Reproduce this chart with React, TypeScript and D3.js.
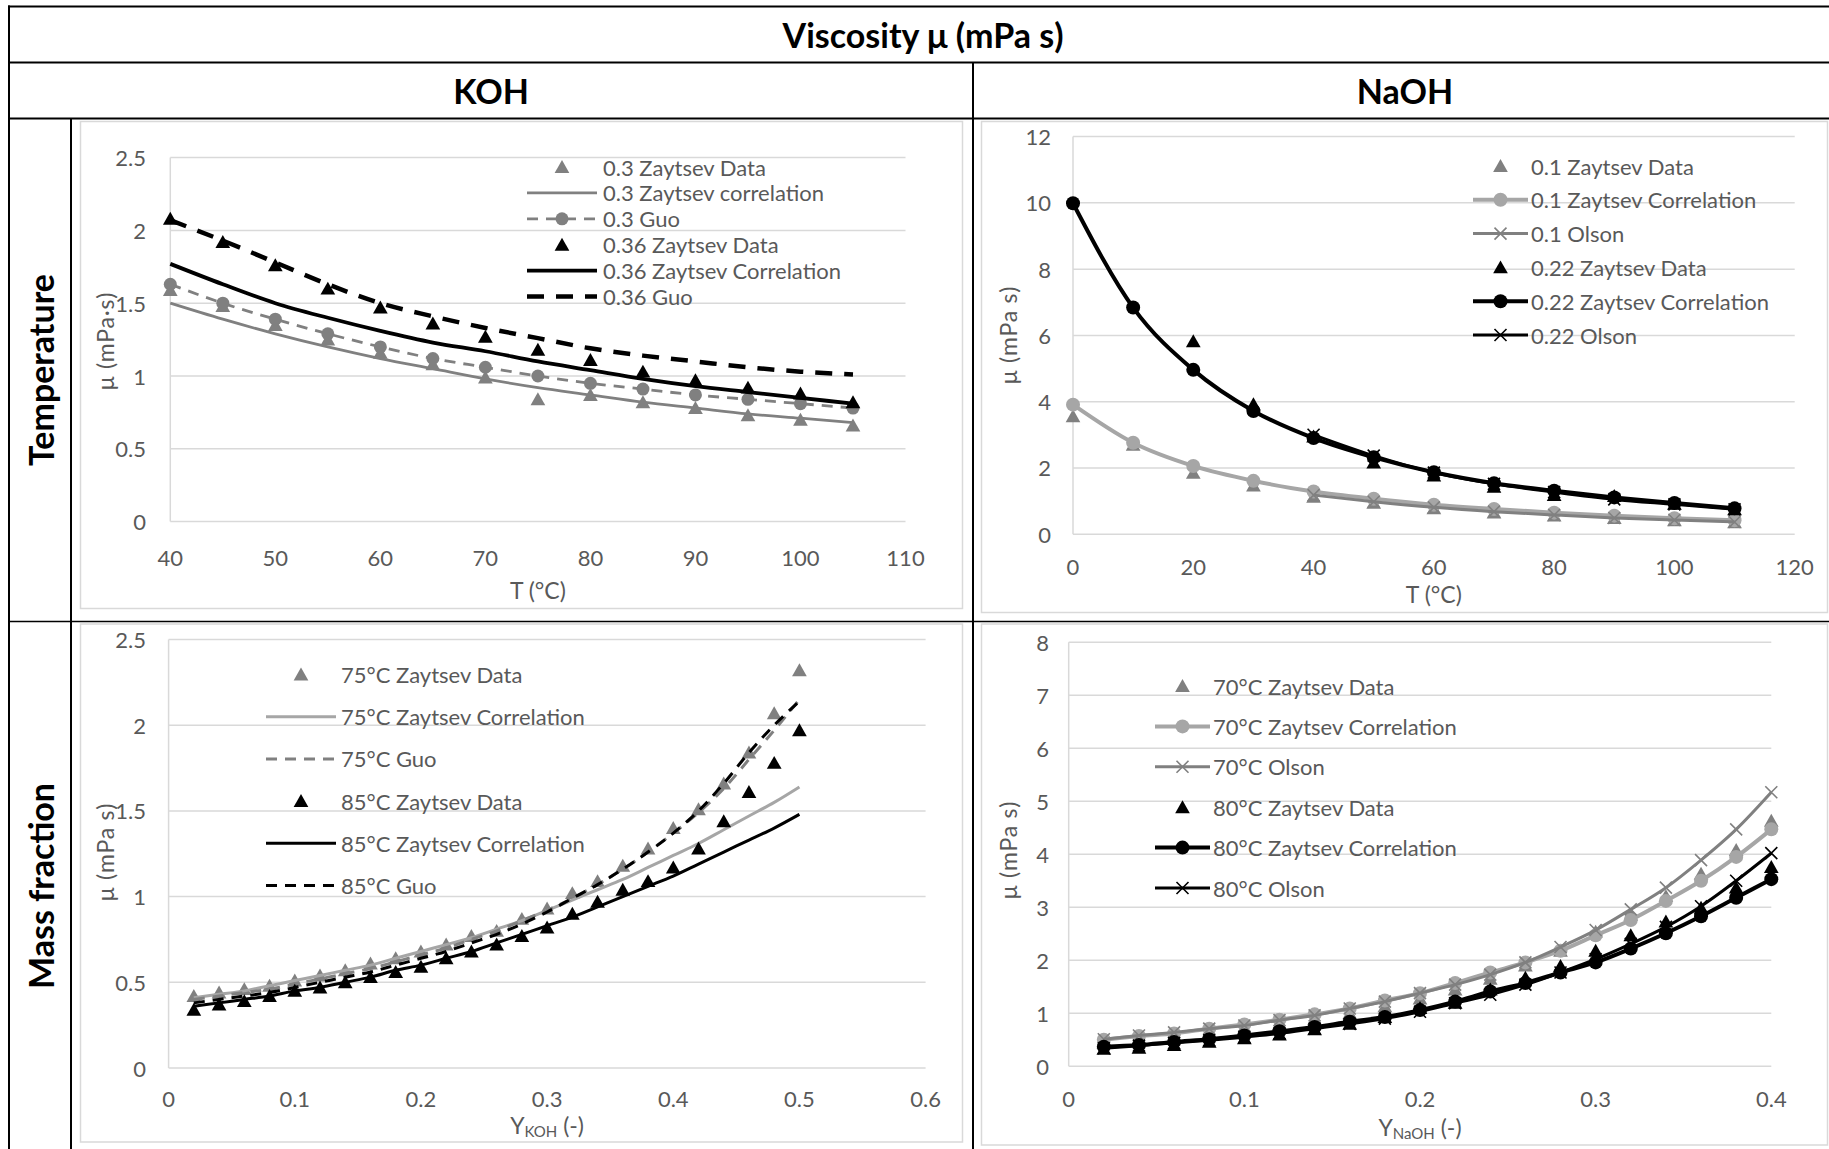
import React from 'react';
import * as d3 from 'd3';

const FONT = "Lato, Carlito, Calibri, 'DejaVu Sans', sans-serif";
const TEXT_GRAY = '#595959';
const GRID = '#d9d9d9';
const DARK_GRAY = '#808080';
const LIGHT_GRAY = '#a6a6a6';
const BLACK = '#000000';

// ---- KOH, viscosity against temperature ----
const kohTemps = [40, 45, 50, 55, 60, 65, 70, 75, 80, 85, 90, 95, 100, 105];
const koh30Data = [1.59, 1.48, 1.35, 1.25, 1.16, 1.08, 0.99, 0.84, 0.87, 0.82, 0.78, 0.73, 0.7, 0.66];
const koh30Corr = [1.5, 1.39, 1.29, 1.2, 1.12, 1.05, 0.98, 0.92, 0.87, 0.82, 0.78, 0.74, 0.71, 0.68];
const koh30Guo = [1.63, 1.5, 1.39, 1.29, 1.2, 1.12, 1.06, 1.0, 0.95, 0.91, 0.87, 0.84, 0.81, 0.78];
const koh36Data = [2.08, 1.92, 1.76, 1.6, 1.47, 1.36, 1.27, 1.18, 1.11, 1.03, 0.97, 0.92, 0.88, 0.82];
const koh36Corr = [1.77, 1.63, 1.5, 1.4, 1.31, 1.23, 1.17, 1.1, 1.04, 0.98, 0.93, 0.89, 0.85, 0.81];
const koh36Guo = [2.07, 1.93, 1.78, 1.63, 1.5, 1.41, 1.33, 1.26, 1.19, 1.14, 1.1, 1.06, 1.03, 1.01];
const kohTempXTicks = [40, 50, 60, 70, 80, 90, 100, 110];
const kohTempYTicks = [0, 0.5, 1, 1.5, 2, 2.5];

// ---- NaOH, viscosity against temperature ----
const naohTemps = [0, 10, 20, 30, 40, 50, 60, 70, 80, 90, 100, 110];
const naohDataTemps = [20, 30, 40, 50, 60, 70, 80, 90, 100, 110];
const olsonTemps = [40, 50, 60, 70, 80, 90, 100, 110];
const naoh10Data = [3.56, 2.7, 1.85, 1.47, 1.13, 0.95, 0.78, 0.65, 0.56, 0.49, 0.42, 0.36];
const naoh10Corr = [3.91, 2.76, 2.06, 1.61, 1.29, 1.07, 0.89, 0.76, 0.65, 0.56, 0.48, 0.42];
const naoh10Olson = [1.18, 0.98, 0.81, 0.68, 0.58, 0.49, 0.43, 0.37];
const naoh22Data = [5.82, 3.92, 2.95, 2.16, 1.77, 1.43, 1.18, 1.15, 0.92, 0.75];
const naoh22Corr = [9.99, 6.84, 4.96, 3.72, 2.9, 2.32, 1.87, 1.54, 1.31, 1.11, 0.94, 0.78];
const naoh22Olson = [3.0, 2.37, 1.86, 1.52, 1.27, 1.05, 0.9, 0.75];
const naohTempXTicks = [0, 20, 40, 60, 80, 100, 120];
const naohTempYTicks = [0, 2, 4, 6, 8, 10, 12];

// ---- KOH, viscosity against mass fraction ----
const kohMass = [0.02, 0.04, 0.06, 0.08, 0.1, 0.12, 0.14, 0.16, 0.18, 0.2, 0.22, 0.24, 0.26, 0.28, 0.3, 0.32, 0.34, 0.36, 0.38, 0.4, 0.42, 0.44, 0.46, 0.48, 0.5];
const koh75Data = [0.42, 0.44, 0.46, 0.48, 0.51, 0.54, 0.57, 0.61, 0.64, 0.68, 0.72, 0.77, 0.8, 0.87, 0.93, 1.02, 1.09, 1.18, 1.28, 1.4, 1.51, 1.66, 1.84, 2.07, 2.32];
const koh75Corr = [0.41, 0.43, 0.45, 0.48, 0.51, 0.54, 0.57, 0.6, 0.64, 0.68, 0.72, 0.76, 0.81, 0.86, 0.92, 0.98, 1.04, 1.1, 1.17, 1.24, 1.31, 1.39, 1.47, 1.55, 1.64];
const koh75Guo = [0.4, 0.42, 0.44, 0.46, 0.49, 0.52, 0.55, 0.58, 0.62, 0.66, 0.7, 0.75, 0.8, 0.86, 0.92, 0.99, 1.07, 1.16, 1.26, 1.37, 1.49, 1.63, 1.8, 1.97, 2.15];
const koh85Data = [0.34, 0.37, 0.39, 0.42, 0.45, 0.47, 0.5, 0.53, 0.56, 0.59, 0.64, 0.68, 0.72, 0.77, 0.82, 0.9, 0.97, 1.04, 1.09, 1.17, 1.28, 1.44, 1.61, 1.78, 1.97];
const koh85Corr = [0.36, 0.38, 0.4, 0.42, 0.45, 0.47, 0.5, 0.53, 0.57, 0.6, 0.64, 0.68, 0.73, 0.78, 0.83, 0.88, 0.94, 1.0, 1.06, 1.12, 1.19, 1.26, 1.33, 1.4, 1.48];
const koh85Guo = [0.38, 0.4, 0.42, 0.44, 0.47, 0.5, 0.53, 0.56, 0.6, 0.64, 0.68, 0.73, 0.78, 0.84, 0.91, 0.99, 1.07, 1.16, 1.26, 1.37, 1.5, 1.66, 1.84, 2.0, 2.14];
const kohMassXTicks = [0, 0.1, 0.2, 0.3, 0.4, 0.5, 0.6];
const kohMassYTicks = [0, 0.5, 1, 1.5, 2, 2.5];

// ---- NaOH, viscosity against mass fraction ----
const naohMass = [0.02, 0.04, 0.06, 0.08, 0.1, 0.12, 0.14, 0.16, 0.18, 0.2, 0.22, 0.24, 0.26, 0.28, 0.3, 0.32, 0.34, 0.36, 0.38, 0.4];
const naoh70Data = [0.45, 0.5, 0.55, 0.62, 0.7, 0.79, 0.89, 1.0, 1.13, 1.28, 1.45, 1.65, 1.9, 2.18, 2.54, 2.86, 3.21, 3.63, 4.08, 4.63];
const naoh70Corr = [0.5, 0.57, 0.62, 0.71, 0.79, 0.88, 0.98, 1.09, 1.24, 1.38, 1.57, 1.77, 1.96, 2.18, 2.47, 2.76, 3.12, 3.5, 3.95, 4.47];
const naoh70Olson = [0.51, 0.58, 0.64, 0.71, 0.77, 0.87, 0.96, 1.09, 1.22, 1.38, 1.54, 1.73, 1.96, 2.25, 2.57, 2.96, 3.37, 3.89, 4.47, 5.17];
const naoh80Data = [0.33, 0.35, 0.4, 0.46, 0.53, 0.6, 0.7, 0.8, 0.93, 1.1, 1.2, 1.45, 1.67, 1.89, 2.18, 2.47, 2.73, 2.99, 3.37, 3.76];
const naoh80Corr = [0.37, 0.4, 0.46, 0.51, 0.58, 0.66, 0.74, 0.84, 0.93, 1.06, 1.22, 1.41, 1.57, 1.77, 1.96, 2.22, 2.51, 2.83, 3.18, 3.53];
const naoh80Olson = [0.34, 0.39, 0.44, 0.49, 0.55, 0.62, 0.71, 0.8, 0.9, 1.03, 1.19, 1.35, 1.54, 1.77, 2.02, 2.31, 2.63, 3.02, 3.5, 4.02];
const naohMassXTicks = [0, 0.1, 0.2, 0.3, 0.4];
const naohMassYTicks = [0, 1, 2, 3, 4, 5, 6, 7, 8];

type Marker = 'triangle' | 'circle' | 'cross' | null;

interface Series {
  label: string;
  xs: number[];
  ys: number[];
  color: string;
  width?: number;
  dash?: string;
  marker?: Marker;
  size?: number;
}

interface PanelProps {
  box: { x: number; y: number; w: number; h: number };
  plot: { left: number; right: number; top: number; bottom: number };
  xDomain: [number, number];
  yDomain: [number, number];
  xTicks: number[];
  yTicks: number[];
  series: Series[];
  legend: { x: number; y: number; step: number; lineLen: number; gap: number };
  xTitle: React.ReactNode;
  xTitleY: number;
  yTitle: string;
  yTitleX: number;
  yTitleY: number;
  xTickY: number;
  yTickX: number;
}

const fmt = (v: number) => String(Math.round(v * 100) / 100);

function MarkerShape({ kind, x, y, color, size = 7 }: { kind: Marker; x: number; y: number; color: string; size?: number }) {
  if (kind === 'triangle') {
    const s = size;
    return <path d={`M${x},${y - s} L${x + s * 1.05},${y + s * 0.85} L${x - s * 1.05},${y + s * 0.85} Z`} fill={color} />;
  }
  if (kind === 'circle') {
    return <circle cx={x} cy={y} r={size} fill={color} />;
  }
  if (kind === 'cross') {
    const s = size;
    return (
      <path
        d={`M${x - s},${y - s} L${x + s},${y + s} M${x - s},${y + s} L${x + s},${y - s}`}
        stroke={color}
        strokeWidth={1.6}
        fill="none"
      />
    );
  }
  return null;
}

function Panel(p: PanelProps) {
  const x = d3.scaleLinear().domain(p.xDomain).range([p.plot.left, p.plot.right]);
  const y = d3.scaleLinear().domain(p.yDomain).range([p.plot.bottom, p.plot.top]);
  const line = d3
    .line<[number, number]>()
    .x((d) => x(d[0]))
    .y((d) => y(d[1]))
    .curve(d3.curveMonotoneX);

  return (
    <g>
      <rect x={p.box.x} y={p.box.y} width={p.box.w} height={p.box.h} fill="#fff" stroke={GRID} strokeWidth={1.5} />
      {p.yTicks.map((t) => (
        <line key={'g' + t} x1={p.plot.left} x2={p.plot.right} y1={y(t)} y2={y(t)} stroke={GRID} strokeWidth={1.5} />
      ))}
      <line x1={p.plot.left} x2={p.plot.left} y1={p.plot.top} y2={p.plot.bottom} stroke={GRID} strokeWidth={1.5} />
      {p.yTicks.map((t) => (
        <text
          key={'yl' + t}
          x={p.yTickX}
          y={y(t)}
          textAnchor="end"
          dominantBaseline="central"
          fontSize={22}
          fill={TEXT_GRAY}
          fontFamily={FONT}
        >
          {fmt(t)}
        </text>
      ))}
      {p.xTicks.map((t) => (
        <text
          key={'xl' + t}
          x={x(t)}
          y={p.xTickY}
          textAnchor="middle"
          dominantBaseline="central"
          fontSize={22}
          fill={TEXT_GRAY}
          fontFamily={FONT}
        >
          {fmt(t)}
        </text>
      ))}
      <text
        x={(p.plot.left + p.plot.right) / 2}
        y={p.xTitleY}
        textAnchor="middle"
        dominantBaseline="central"
        fontSize={23}
        fill={TEXT_GRAY}
        fontFamily={FONT}
      >
        {p.xTitle}
      </text>
      <text
        transform={`translate(${p.yTitleX},${p.yTitleY}) rotate(-90)`}
        textAnchor="middle"
        dominantBaseline="central"
        fontSize={23}
        letterSpacing={0.8}
        fill={TEXT_GRAY}
        fontFamily={FONT}
      >
        {p.yTitle}
      </text>

      {p.series.map((s, i) => {
        const pts = s.xs.map((v, k) => [v, s.ys[k]] as [number, number]);
        return (
          <g key={'s' + i}>
            {s.width ? (
              <path
                d={line(pts) || ''}
                fill="none"
                stroke={s.color}
                strokeWidth={s.width}
                strokeDasharray={s.dash}
                strokeLinejoin="round"
              />
            ) : null}
            {s.marker
              ? pts.map((d, k) => (
                  <MarkerShape key={k} kind={s.marker!} x={x(d[0])} y={y(d[1])} color={s.color} size={s.size} />
                ))
              : null}
          </g>
        );
      })}

      {p.series.map((s, i) => {
        const cy = p.legend.y + i * p.legend.step;
        const x0 = p.legend.x;
        const x1 = p.legend.x + p.legend.lineLen;
        return (
          <g key={'l' + i}>
            {s.width ? (
              <line x1={x0} x2={x1} y1={cy} y2={cy} stroke={s.color} strokeWidth={s.width} strokeDasharray={s.dash} />
            ) : null}
            {s.marker ? <MarkerShape kind={s.marker} x={(x0 + x1) / 2} y={cy} color={s.color} size={s.size} /> : null}
            <text
              x={x1 + p.legend.gap}
              y={cy}
              dominantBaseline="central"
              fontSize={22}
              fill={TEXT_GRAY}
              fontFamily={FONT}
            >
              {s.label}
            </text>
          </g>
        );
      })}
    </g>
  );
}

export default function App() {
  const W = 1829;
  const H = 1149;

  const kohTempSeries: Series[] = [
    { label: '0.3 Zaytsev Data', xs: kohTemps, ys: koh30Data, color: DARK_GRAY, marker: 'triangle', size: 7 },
    { label: '0.3 Zaytsev correlation', xs: kohTemps, ys: koh30Corr, color: DARK_GRAY, width: 2.8 },
    { label: '0.3 Guo', xs: kohTemps, ys: koh30Guo, color: DARK_GRAY, width: 2.8, dash: '11 8', marker: 'circle', size: 6.5 },
    { label: '0.36 Zaytsev Data', xs: kohTemps, ys: koh36Data, color: BLACK, marker: 'triangle', size: 7 },
    { label: '0.36 Zaytsev Correlation', xs: kohTemps, ys: koh36Corr, color: BLACK, width: 3.8 },
    { label: '0.36 Guo', xs: kohTemps, ys: koh36Guo, color: BLACK, width: 4.5, dash: '17 12' },
  ];

  const naohTempSeries: Series[] = [
    { label: '0.1 Zaytsev Data', xs: naohTemps, ys: naoh10Data, color: DARK_GRAY, marker: 'triangle', size: 7 },
    { label: '0.1 Zaytsev Correlation', xs: naohTemps, ys: naoh10Corr, color: LIGHT_GRAY, width: 4, marker: 'circle', size: 7 },
    { label: '0.1 Olson', xs: olsonTemps, ys: naoh10Olson, color: DARK_GRAY, width: 3, marker: 'cross', size: 6 },
    { label: '0.22 Zaytsev Data', xs: naohDataTemps, ys: naoh22Data, color: BLACK, marker: 'triangle', size: 7 },
    { label: '0.22 Zaytsev Correlation', xs: naohTemps, ys: naoh22Corr, color: BLACK, width: 4, marker: 'circle', size: 7 },
    { label: '0.22 Olson', xs: olsonTemps, ys: naoh22Olson, color: BLACK, width: 3, marker: 'cross', size: 6 },
  ];

  const kohMassSeries: Series[] = [
    { label: '75°C Zaytsev Data', xs: kohMass, ys: koh75Data, color: DARK_GRAY, marker: 'triangle', size: 7 },
    { label: '75°C Zaytsev Correlation', xs: kohMass, ys: koh75Corr, color: LIGHT_GRAY, width: 3 },
    { label: '75°C Guo', xs: kohMass, ys: koh75Guo, color: DARK_GRAY, width: 3, dash: '11 8' },
    { label: '85°C Zaytsev Data', xs: kohMass, ys: koh85Data, color: BLACK, marker: 'triangle', size: 7 },
    { label: '85°C Zaytsev Correlation', xs: kohMass, ys: koh85Corr, color: BLACK, width: 3 },
    { label: '85°C Guo', xs: kohMass, ys: koh85Guo, color: BLACK, width: 3, dash: '11 8' },
  ];

  const naohMassSeries: Series[] = [
    { label: '70°C Zaytsev Data', xs: naohMass, ys: naoh70Data, color: DARK_GRAY, marker: 'triangle', size: 7 },
    { label: '70°C Zaytsev Correlation', xs: naohMass, ys: naoh70Corr, color: LIGHT_GRAY, width: 4, marker: 'circle', size: 7 },
    { label: '70°C Olson', xs: naohMass, ys: naoh70Olson, color: DARK_GRAY, width: 3, marker: 'cross', size: 6 },
    { label: '80°C Zaytsev Data', xs: naohMass, ys: naoh80Data, color: BLACK, marker: 'triangle', size: 7 },
    { label: '80°C Zaytsev Correlation', xs: naohMass, ys: naoh80Corr, color: BLACK, width: 4, marker: 'circle', size: 7 },
    { label: '80°C Olson', xs: naohMass, ys: naoh80Olson, color: BLACK, width: 3, marker: 'cross', size: 6 },
  ];

  const headStyle = { fontFamily: FONT, fontWeight: 700, fontSize: 34, fill: '#000' } as const;

  return (
    <svg
      width={W}
      height={H}
      viewBox={`0 0 ${W} ${H}`}
      style={{ position: 'absolute', left: 0, top: 0, background: '#fff' }}
    >
      <rect x={0} y={0} width={W} height={H} fill="#fff" />

      <Panel
        box={{ x: 80.5, y: 121.5, w: 882, h: 487 }}
        plot={{ left: 170.3, right: 905.5, top: 157.6, bottom: 521.6 }}
        xDomain={[40, 110]}
        yDomain={[0, 2.5]}
        xTicks={kohTempXTicks}
        yTicks={kohTempYTicks}
        series={kohTempSeries}
        legend={{ x: 527, y: 167, step: 25.9, lineLen: 70, gap: 6 }}
        xTitle="T (°C)"
        xTitleY={590}
        yTitle="μ (mPa·s)"
        yTitleX={105}
        yTitleY={341}
        xTickY={557}
        yTickX={146}
      />

      <Panel
        box={{ x: 981.5, y: 121.5, w: 846, h: 491 }}
        plot={{ left: 1073, right: 1794.7, top: 136.6, bottom: 534.2 }}
        xDomain={[0, 120]}
        yDomain={[0, 12]}
        xTicks={naohTempXTicks}
        yTicks={naohTempYTicks}
        series={naohTempSeries}
        legend={{ x: 1473, y: 166, step: 33.8, lineLen: 55, gap: 3 }}
        xTitle="T (°C)"
        xTitleY={594}
        yTitle="μ (mPa s)"
        yTitleX={1008}
        yTitleY={335}
        xTickY={566}
        yTickX={1051}
      />

      <Panel
        box={{ x: 80.5, y: 624, w: 882, h: 518 }}
        plot={{ left: 168.6, right: 925.6, top: 639.5, bottom: 1068 }}
        xDomain={[0, 0.6]}
        yDomain={[0, 2.5]}
        xTicks={kohMassXTicks}
        yTicks={kohMassYTicks}
        series={kohMassSeries}
        legend={{ x: 266, y: 674.5, step: 42.2, lineLen: 70, gap: 5 }}
        xTitle={
          <>
            Y
            <tspan fontSize={15} dy={6}>
              KOH
            </tspan>
            <tspan dy={-6}> (-)</tspan>
          </>
        }
        xTitleY={1125}
        yTitle="μ (mPa s)"
        yTitleX={105}
        yTitleY={852}
        xTickY={1098}
        yTickX={146}
      />

      <Panel
        box={{ x: 981.5, y: 624, w: 846, h: 521 }}
        plot={{ left: 1068.7, right: 1771.3, top: 642.2, bottom: 1066.3 }}
        xDomain={[0, 0.4]}
        yDomain={[0, 8]}
        xTicks={naohMassXTicks}
        yTicks={naohMassYTicks}
        series={naohMassSeries}
        legend={{ x: 1155, y: 686, step: 40.4, lineLen: 55, gap: 3 }}
        xTitle={
          <>
            Y
            <tspan fontSize={15} dy={6}>
              NaOH
            </tspan>
            <tspan dy={-6}> (-)</tspan>
          </>
        }
        xTitleY={1127}
        yTitle="μ (mPa s)"
        yTitleX={1008}
        yTitleY={850}
        xTickY={1098}
        yTickX={1049}
      />

      {/* table rules */}
      <g stroke="#000">
        <line x1={8} x2={1840} y1={6.5} y2={6.5} strokeWidth={2} />
        <line x1={9} x2={9} y1={5.5} y2={1152} strokeWidth={2} />
        <line x1={8} x2={1840} y1={62.5} y2={62.5} strokeWidth={2} />
        <line x1={8} x2={1840} y1={118.5} y2={118.5} strokeWidth={2} />
        <line x1={71} x2={71} y1={118} y2={1152} strokeWidth={2} />
        <line x1={973} x2={973} y1={62} y2={1152} strokeWidth={2} />
        <line x1={8} x2={1840} y1={621.5} y2={621.5} strokeWidth={1.6} />
      </g>

      <text x={923} y={34} textAnchor="middle" dominantBaseline="central" {...headStyle}>
        Viscosity μ (mPa s)
      </text>
      <text x={491} y={90} textAnchor="middle" dominantBaseline="central" {...headStyle}>
        KOH
      </text>
      <text x={1405} y={90} textAnchor="middle" dominantBaseline="central" {...headStyle}>
        NaOH
      </text>
      <text transform="translate(40,370) rotate(-90)" textAnchor="middle" dominantBaseline="central" {...headStyle}>
        Temperature
      </text>
      <text transform="translate(40,886) rotate(-90)" textAnchor="middle" dominantBaseline="central" {...headStyle}>
        Mass fraction
      </text>
    </svg>
  );
}
